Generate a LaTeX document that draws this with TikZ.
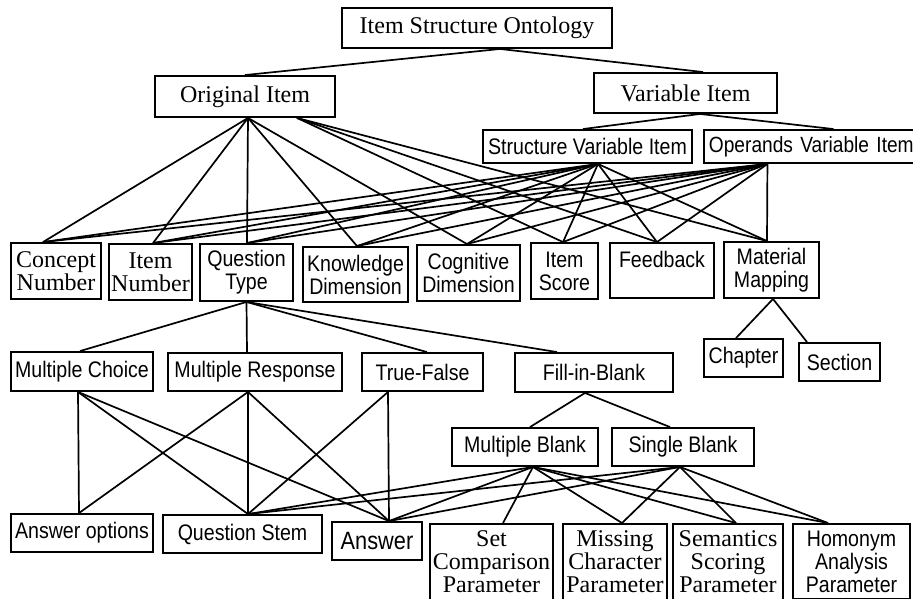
\documentclass[tikz,border=0pt]{standalone}
\usepackage{fontspec}
\setmainfont{Liberation Serif}
\newfontfamily\sansn[FakeStretch=0.87]{Liberation Sans}
\begin{document}
\begin{tikzpicture}[x=1pt,y=-1pt,
  box/.style={draw, line width=1.9pt, inner sep=0pt, align=center},
  serifbox/.style={box, font=\fontsize{24}{23}\selectfont},
  sansbox/.style={box, font=\sansn\fontsize{22.5}{23}\selectfont},
  parambox/.style={anchor=north, text depth=0pt, inner ysep=7pt},
  link/.style={line width=1.7pt}]
\useasboundingbox (0,0) rectangle (913,598);

% top levels
\node[serifbox, minimum width=270pt, minimum height=40pt] (ont) at (477,28) {Item Structure Ontology};
\node[serifbox, minimum width=180pt, minimum height=41pt] (orig) at (245,96.5) {Original Item};
\node[serifbox, minimum width=183pt, minimum height=40pt] (var) at (685.5,93) {Variable Item};
\node[sansbox, minimum width=209pt, minimum height=33pt] (svi) at (587.5,146.5) {Structure Variable Item};
\node[sansbox, font=\sansn\fontsize{22}{23}\selectfont, anchor=west, text width=243pt, align=left, inner xsep=5pt, minimum height=33pt] (ovi) at (703,146.5) {Operands Variable Item};

% item attributes
\node[serifbox, minimum width=90pt, minimum height=56pt] (cn) at (56,271) {Concept\\Number};
\node[serifbox, minimum width=83pt, minimum height=56pt] (inum) at (150.5,272) {Item\\Number};
\node[sansbox, minimum width=93pt, minimum height=57pt] (qt) at (246.5,272.5) {Question\\Type};
\node[sansbox, minimum width=105pt, minimum height=55pt] (kd) at (355.5,274.5) {Knowledge\\Dimension};
\node[sansbox, minimum width=103pt, minimum height=56pt] (cd) at (468.5,273) {Cognitive\\Dimension};
\node[sansbox, minimum width=67pt, minimum height=56pt] (isc) at (564.5,271) {Item\\Score};
\node[sansbox, minimum width=104pt, minimum height=55pt] (fb) at (662,270.5) {Feedback\\~};
\node[sansbox, minimum width=95pt, minimum height=56pt] (mm) at (771.5,270) {Material\\Mapping};
\node[sansbox, minimum width=79pt, minimum height=38pt] (chap) at (743.5,358) {Chapter};
\node[sansbox, minimum width=81pt, minimum height=38pt] (sec) at (839.5,362) {Section};

% question types
\node[sansbox, minimum width=142pt, minimum height=39pt] (mc) at (82,371.5) {Multiple Choice};
\node[sansbox, minimum width=174pt, minimum height=38pt] (mr) at (255,372) {Multiple Response};
\node[sansbox, minimum width=121pt, minimum height=38pt] (tf) at (422.5,372) {True-False};
\node[sansbox, minimum width=158pt, minimum height=39pt] (fib) at (594,372.5) {Fill-in-Blank};
\node[sansbox, minimum width=146pt, minimum height=38pt] (mb) at (525,447) {Multiple Blank};
\node[sansbox, minimum width=142pt, minimum height=38pt] (sb) at (683,447) {Single Blank};

% question parts and parameters (boxes run past the lower edge)
\node[sansbox, minimum width=142pt, minimum height=38pt] (ao) at (82,533) {Answer options};
\node[sansbox, minimum width=159pt, minimum height=38pt] (qs) at (242.5,534) {Question Stem};
\node[sansbox, font=\sansn\fontsize{25}{26}\selectfont, minimum width=90pt, minimum height=38pt] (ans) at (377,541) {Answer};
\node[serifbox, parambox, minimum width=123pt] (scp) at (491.5,523) {Set\\Comparison\\Parameter};
\node[serifbox, parambox, minimum width=104pt] (mcp) at (615,523) {Missing\\Character\\Parameter};
\node[serifbox, parambox, minimum width=110pt] (ssp) at (728,523) {Semantics\\Scoring\\Parameter};
\node[sansbox, parambox, minimum width=117pt] (hap) at (851.5,523) {Homonym\\Analysis\\Parameter};

% attachment points
\coordinate (ont-b) at ([xshift=23pt]ont.south);
\coordinate (orig-b1) at ([xshift=3pt]orig.south);
\coordinate (orig-b2) at ([xshift=52pt]orig.south);
\coordinate (var-t) at ([xshift=17.5pt]var.north);
\coordinate (var-b) at ([xshift=14.5pt]var.south);
\coordinate (svi-t) at ([xshift=-4.5pt]svi.north);
\coordinate (svi-b) at ([xshift=10.5pt]svi.south);
\coordinate (ovi-t) at ([xshift=3pt]ovi.north);
\coordinate (ovi-b) at ([xshift=-63pt]ovi.south);
\coordinate (cn-t) at ([xshift=-13pt]cn.north);
\coordinate (inum-t) at ([xshift=2.5pt]inum.north);
\coordinate (qt-t) at ([xshift=0.5pt]qt.north);
\coordinate (kd-t) at ([xshift=1.5pt]kd.north);
\coordinate (cd-t) at ([xshift=-1.5pt]cd.north);
\coordinate (isc-t) at ([xshift=-1.5pt]isc.north);
\coordinate (fb-t) at ([xshift=-5pt]fb.north);
\coordinate (mm-t) at ([xshift=-4.5pt]mm.north);
\coordinate (mm-b) at ([xshift=1.5pt]mm.south);
\coordinate (chap-t) at ([xshift=-7.5pt]chap.north);
\coordinate (sec-t) at ([xshift=-32.5pt]sec.north);
\coordinate (mc-t) at ([xshift=-2pt]mc.north);
\coordinate (mr-t) at ([xshift=-8pt]mr.north);
\coordinate (tf-t) at ([xshift=4.5pt]tf.north);
\coordinate (fib-t) at ([xshift=-37pt]fib.north);
\coordinate (fib-b) at ([xshift=-9pt]fib.south);
\coordinate (mb-t) at ([xshift=5pt]mb.north);
\coordinate (sb-t) at ([xshift=-13pt]sb.north);
\coordinate (mc-b) at ([xshift=-4pt]mc.south);
\coordinate (mr-b) at ([xshift=-7pt]mr.south);
\coordinate (tf-b) at ([xshift=-34.5pt]tf.south);
\coordinate (mb-b) at ([xshift=8pt]mb.south);
\coordinate (sb-b) at ([xshift=-3pt]sb.south);
\coordinate (ao-t) at ([xshift=-3pt]ao.north);
\coordinate (qs-t) at ([xshift=5.5pt]qs.north);
\coordinate (ans-t) at ([xshift=12pt]ans.north);
\coordinate (scp-t) at ([xshift=11.5pt]scp.north);
\coordinate (mcp-t) at ([xshift=7pt]mcp.north);
\coordinate (ssp-t) at ([xshift=8pt]ssp.north);
\coordinate (hap-t) at ([xshift=-23.5pt]hap.north);

% connectors
\draw[link] (ont-b) -- (orig.north);
\draw[link] (ont-b) -- (var-t);
\draw[link] (var-b) -- (svi-t);
\draw[link] (var-b) -- (ovi-t);
\foreach \c in {cn,inum,qt,kd,cd} \draw[link] (orig-b1) -- (\c-t);
\foreach \c in {isc,fb,mm} \draw[link] (orig-b2) -- (\c-t);
\foreach \c in {cn,inum,qt,kd,cd,isc,fb,mm} {
  \draw[link] (svi-b) -- (\c-t);
  \draw[link] (ovi-b) -- (\c-t);
}
\draw[link] (mm-b) -- (chap-t);
\draw[link] (mm-b) -- (sec-t);
\foreach \c in {mc,mr,tf,fib} \draw[link] (qt.south) -- (\c-t);
\draw[link] (fib-b) -- (mb-t);
\draw[link] (fib-b) -- (sb-t);
\foreach \c in {ao,qs,ans} {
  \draw[link] (mc-b) -- (\c-t);
  \draw[link] (mr-b) -- (\c-t);
}
\foreach \c in {qs,ans} \draw[link] (tf-b) -- (\c-t);
\foreach \c in {qs,ans,scp,mcp,ssp,hap} \draw[link] (mb-b) -- (\c-t);
\foreach \c in {qs,ans,mcp,ssp,hap} \draw[link] (sb-b) -- (\c-t);
\end{tikzpicture}
\end{document}
